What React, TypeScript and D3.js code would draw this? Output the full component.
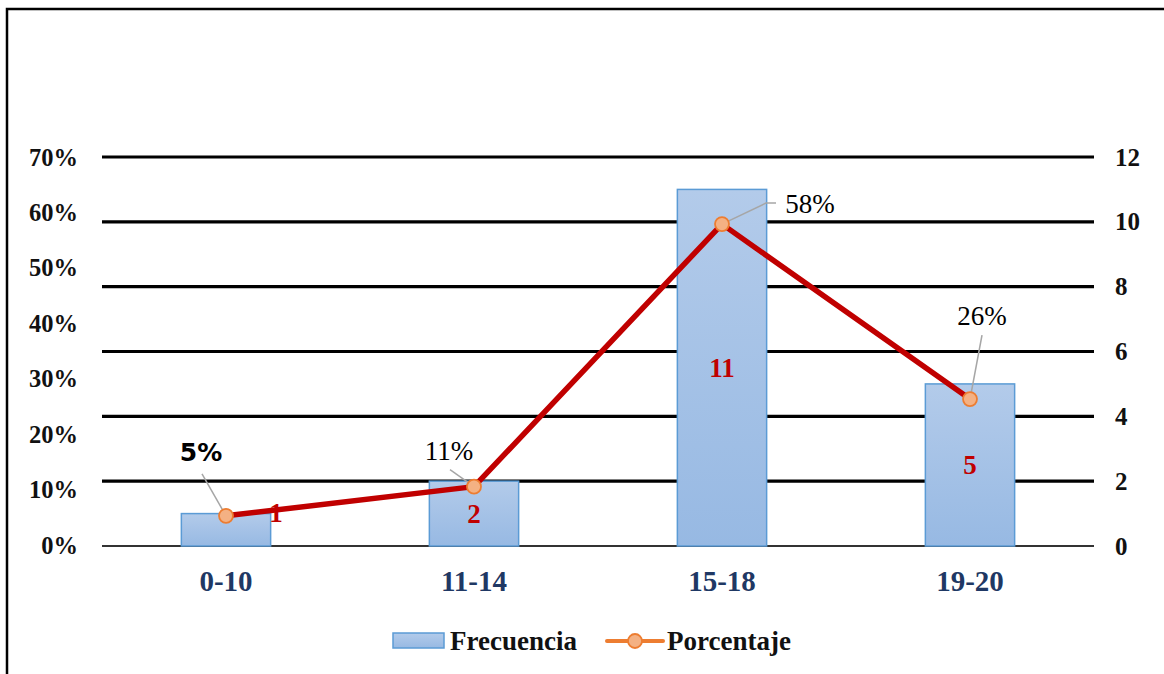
import React from "react";
import * as d3 from "d3";

const categories = ["0-10", "11-14", "15-18", "19-20"];
const frecuencia = [1, 2, 11, 5];
const porcentaje = [0.0526, 0.1053, 0.5789, 0.2632];
const porcentajeLabels = ["5%", "11%", "58%", "26%"];
const leftTicks = [0, 0.1, 0.2, 0.3, 0.4, 0.5, 0.6, 0.7];
const rightTicks = [0, 2, 4, 6, 8, 10, 12];

// label layout offsets (relative to marks)
const pctLabelOffset = [[-25, -63], [-25, -36], [88, -20], [12, -83]];
const pctLeaderStart = [[-24, -42], [-24, -17], [54, -21], [12, -64]];
const barLabelOffset = [[50, -17], [0, 0], [0, 0], [0, 0]];

const SERIF = "'Liberation Serif', 'Times New Roman', serif";

export default function App() {
  const W = 1164, H = 674;
  const left = 102, right = 1094, top = 157, bottom = 546;
  const x = d3.scaleBand<string>().domain(categories).range([left, right]).paddingInner(0.64).paddingOuter(0.32);
  const yR = d3.scaleLinear().domain([0, 12]).range([bottom, top]);
  const yL = d3.scaleLinear().domain([0, 0.7]).range([bottom - 1, top]);
  const cx = (c: string) => (x(c) as number) + x.bandwidth() / 2;
  const line = d3.line<number>().x((_, i) => cx(categories[i])).y((d) => yL(d));

  return (
    <svg width={W} height={H} style={{ position: "absolute", left: 0, top: 0, background: "#fff" }}>
      <defs>
        <linearGradient id="barGrad" x1="0" y1="0" x2="0" y2="1">
          <stop offset="0%" stopColor="#B3CBEA" />
          <stop offset="100%" stopColor="#97B9E3" />
        </linearGradient>
      </defs>
      <rect x={0} y={0} width={W} height={H} fill="#fff" />
      <rect x={7} y={9} width={W + 20} height={H + 20} fill="none" stroke="#000" strokeWidth={2.5} />

      {/* gridlines */}
      {rightTicks.map((t) => (
        <line key={t} x1={left} x2={right} y1={yR(t)} y2={yR(t)}
          stroke={t === 0 ? "#333" : "#000"} strokeWidth={t === 0 ? 2 : 3.2} />
      ))}

      {/* left axis */}
      {leftTicks.map((t) => (
        <text key={t} x={78} y={yL(t)} textAnchor="end" dominantBaseline="central"
          fontFamily={SERIF} fontWeight="bold" fontSize={24.5} fill="#111">
          {d3.format(".0%")(t)}
        </text>
      ))}
      {/* right axis */}
      {rightTicks.map((t) => (
        <text key={t} x={1115} y={yR(t)} textAnchor="start" dominantBaseline="central"
          fontFamily={SERIF} fontWeight="bold" fontSize={25} fill="#111">
          {t}
        </text>
      ))}

      {/* bars */}
      {frecuencia.map((v, i) => (
        <rect key={i} x={x(categories[i])} y={yR(v)} width={x.bandwidth()} height={yR(0) - yR(v)}
          fill="url(#barGrad)" stroke="#5B9BD5" strokeWidth={1.5} />
      ))}

      {/* x labels */}
      {categories.map((c) => (
        <text key={c} x={cx(c)} y={581} textAnchor="middle" dominantBaseline="central"
          fontFamily={SERIF} fontWeight="bold" fontSize={29} fill="#1F3864">
          {c}
        </text>
      ))}

      {/* bar value labels */}
      {frecuencia.map((v, i) => (
        <text key={i} x={cx(categories[i]) + barLabelOffset[i][0]}
          y={(yR(v) + yR(0)) / 2 + barLabelOffset[i][1]} textAnchor="middle" dominantBaseline="central"
          fontFamily={SERIF} fontWeight="bold" fontSize={27} fill="#C00000">
          {v}
        </text>
      ))}

      {/* leader lines */}
      {porcentaje.map((p, i) => {
        const px = cx(categories[i]), py = yL(p);
        const sx = px + pctLeaderStart[i][0], sy = py + pctLeaderStart[i][1];
        const pts = i === 2 ? `${px},${py} ${sx - 10},${sy} ${sx},${sy}` : `${px},${py} ${sx},${sy}`;
        return <polyline key={i} points={pts} fill="none" stroke="#A6A6A6" strokeWidth={1.5} />;
      })}

      {/* line */}
      <path d={line(porcentaje) as string} fill="none" stroke="#C00000" strokeWidth={5.5} strokeLinejoin="round" />
      {porcentaje.map((p, i) => (
        <circle key={i} cx={cx(categories[i])} cy={yL(p)} r={7} fill="#F4B183" stroke="#ED7D31" strokeWidth={1.8} />
      ))}

      {/* percent labels */}
      {porcentaje.map((p, i) => (
        <text key={i} x={cx(categories[i]) + pctLabelOffset[i][0]} y={yL(p) + pctLabelOffset[i][1]}
          textAnchor="middle" dominantBaseline="central"
          fontFamily={i === 0 ? "'DejaVu Sans', sans-serif" : SERIF}
          fontWeight={i === 0 ? "bold" : "normal"} fontSize={i === 0 ? 25 : 27} fill="#000">
          {porcentajeLabels[i]}
        </text>
      ))}

      {/* legend */}
      <rect x={393} y={633} width={51} height={15} fill="url(#barGrad)" stroke="#5B9BD5" strokeWidth={1.5} />
      <text x={450} y={641} dominantBaseline="central" fontFamily={SERIF} fontWeight="bold" fontSize={27} fill="#111">Frecuencia</text>
      <line x1={607} x2={663} y1={641} y2={641} stroke="#ED7D31" strokeWidth={4} strokeLinecap="round" />
      <circle cx={635} cy={641} r={7} fill="#F4B183" stroke="#ED7D31" strokeWidth={1.8} />
      <text x={667} y={641} dominantBaseline="central" fontFamily={SERIF} fontWeight="bold" fontSize={27} fill="#111">Porcentaje</text>
    </svg>
  );
}
